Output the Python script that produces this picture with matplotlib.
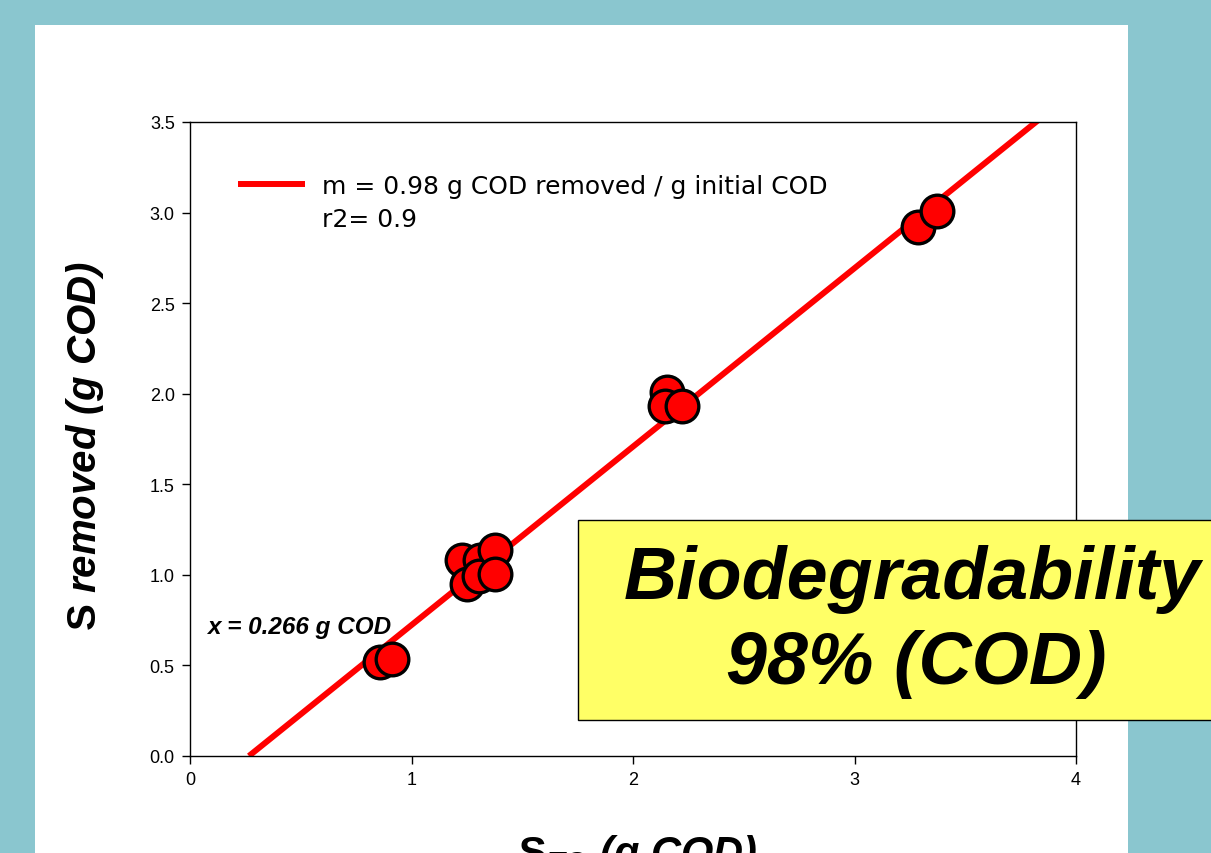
import matplotlib
matplotlib.use("Agg")
import matplotlib.pyplot as plt
from matplotlib.lines import Line2D
from matplotlib.patches import Rectangle

# data
s_to = [0.858, 0.911, 1.228, 1.250, 1.309, 1.305, 1.377, 1.377,
        2.153, 2.144, 2.221, 3.287, 3.372]
s_removed = [0.517, 0.534, 1.082, 0.950, 1.082, 0.994, 1.138, 1.005,
             2.010, 1.933, 1.933, 2.919, 3.009]
slope = 0.985
x_intercept = 0.266
fit_x = [x_intercept, 3.83]
fit_label = "m = 0.98 g COD removed / g initial COD"
r2_label = "r2= 0.9"
x_ticks = [0, 1, 2, 3, 4]
y_ticks = [0.0, 0.5, 1.0, 1.5, 2.0, 2.5, 3.0, 3.5]

plt.rcParams["font.family"] = "Liberation Sans"
plt.rcParams["mathtext.fontset"] = "custom"
plt.rcParams["mathtext.it"] = "Liberation Sans:italic:bold"
plt.rcParams["mathtext.bf"] = "Liberation Sans:bold"
plt.rcParams["mathtext.rm"] = "Liberation Sans:bold"

W, H = 1211, 854
fig = plt.figure(figsize=(W / 100, H / 100), dpi=100, facecolor="#8AC6CF")

# white slide panel
fig.patches.append(Rectangle((35 / W, 0), (1128 - 35) / W, 1 - 26 / H,
                             transform=fig.transFigure, facecolor="white",
                             edgecolor="none", zorder=-1))

ax = fig.add_axes([190 / W, 1 - 757 / H, 886 / W, 634 / H])
ax.set_zorder(1)
ax.set_facecolor("white")

fit_y = [slope * (x - x_intercept) for x in fit_x]
line, = ax.plot(fit_x, fit_y, color="#FF0000", lw=4.3, zorder=2,
                solid_capstyle="butt")
ax.plot(s_to, s_removed, "o", ms=23.5, mfc="#FF0000", mec="black", mew=2.4,
        zorder=3, clip_on=False)

ax.set_xlim(0, 4)
ax.set_ylim(0, 3.5)
ax.set_xticks(x_ticks)
ax.set_yticks(y_ticks)
ax.set_yticklabels([f"{v:.1f}" for v in y_ticks])
ax.tick_params(direction="out", length=6, width=1, labelsize=13, pad=5)
for s in ax.spines.values():
    s.set_linewidth(1)

leg = ax.legend([line, Line2D([], [], color="none")], [fit_label, r2_label],
                loc="upper left", bbox_to_anchor=(0.054, 0.918), frameon=False,
                prop={"family": "DejaVu Sans", "size": 18},
                borderpad=0, borderaxespad=0,
                handlelength=2.7, handletextpad=0.65, labelspacing=0.35)

ax.text(0.077, 0.68, "x = 0.266 g COD", fontsize=17.5, fontweight="bold",
        fontstyle="italic", transform=ax.transData)

ax.set_ylabel(r"$\mathbf{S}$ removed (g COD)", fontsize=29,
              fontweight="bold", fontstyle="italic")
ax.yaxis.set_label_coords((106 - 190) / 886, (757 - 446) / 634)

# x label, mostly cut off by the slide edge
fig.text(638 / W, 1 - 866 / H, r"$\mathbf{S}_{TO}$ (g COD)", fontsize=30,
         fontweight="bold", fontstyle="italic", ha="center", va="baseline")

# yellow call-out box (drawn over the axes)
box_ax = fig.add_axes([0, 0, 1, 1], facecolor="none")
box_ax.set_zorder(5)
box_ax.axis("off")
box_ax.set_xlim(0, W)
box_ax.set_ylim(H, 0)
box_ax.add_patch(Rectangle((578, 521), 700, 200, facecolor="#FFFF66",
                           edgecolor="black", lw=1, clip_on=False))
box_ax.text(912, 580, "Biodegradability", fontsize=53, fontweight="bold",
            fontstyle="italic", ha="center", va="center")
box_ax.text(916, 665, "98% (COD)", fontsize=53, fontweight="bold",
            fontstyle="italic", ha="center", va="center")

fig.savefig("out.png", dpi=100, facecolor=fig.get_facecolor())
